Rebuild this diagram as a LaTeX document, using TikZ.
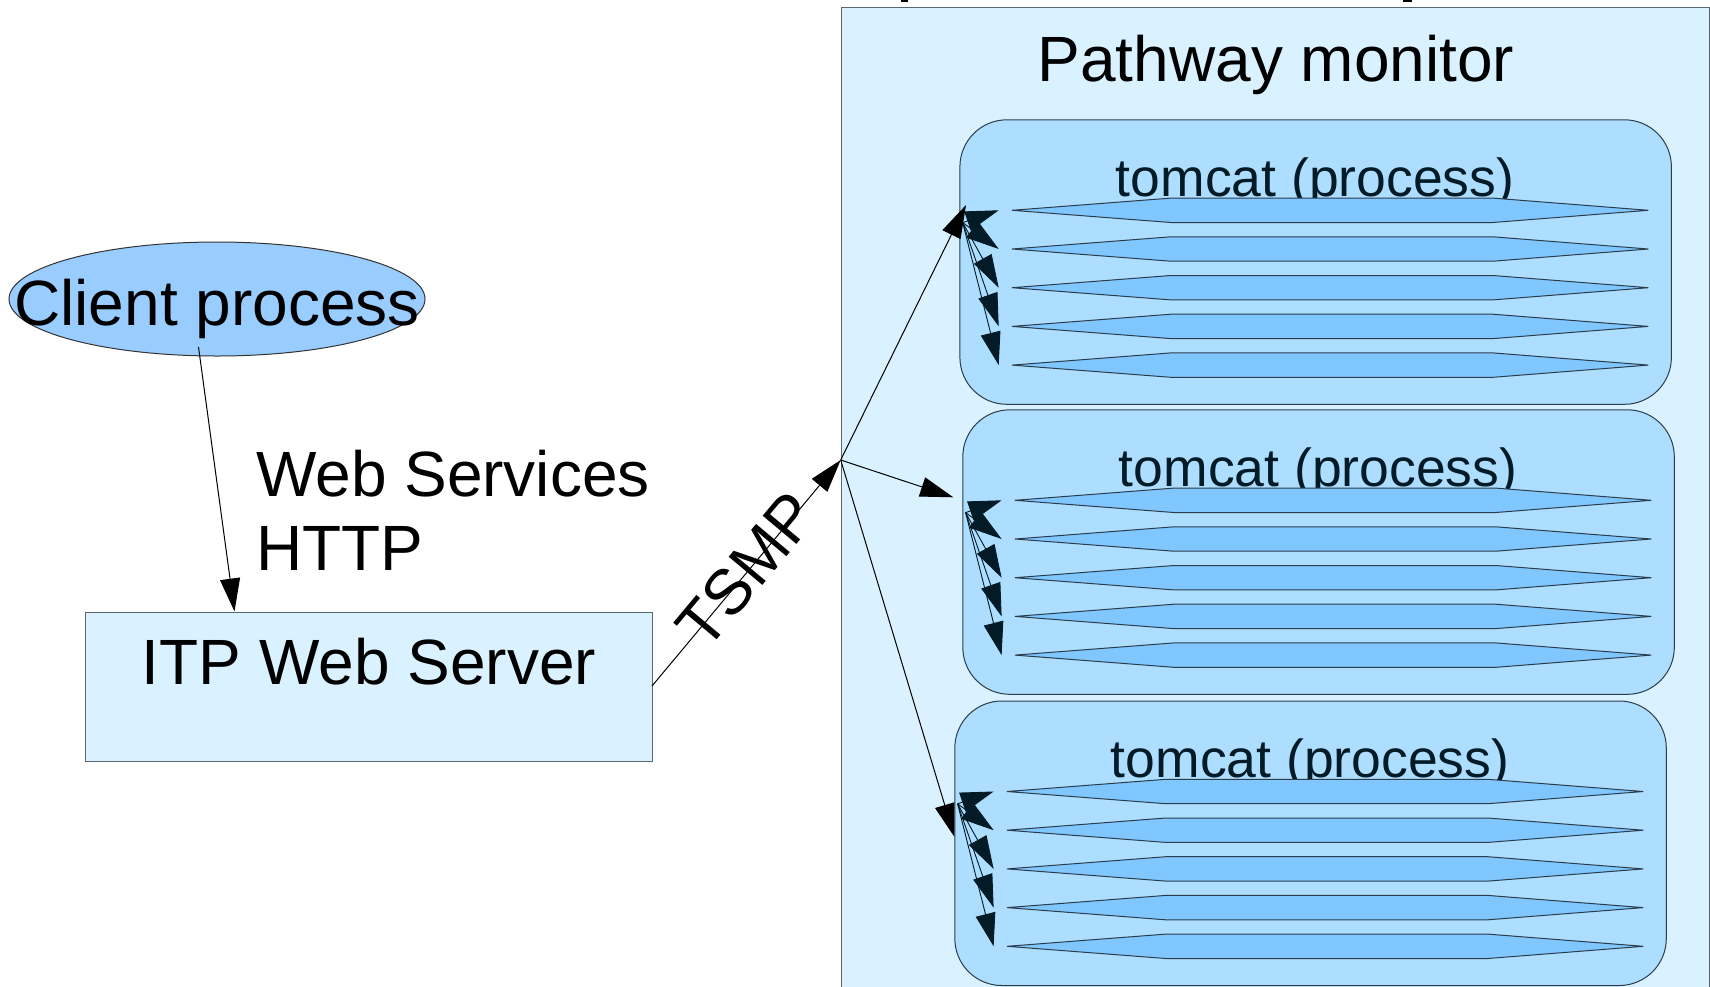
\documentclass[tikz,border=0pt]{standalone}
\usepackage{fontspec}
\setmainfont{Liberation Sans}
\usetikzlibrary{arrows.meta,shapes.geometric}
\definecolor{paleblue}{HTML}{DAF2FF}
\definecolor{tcfill}{HTML}{ADDDFF}
\definecolor{lensfill}{HTML}{80C6FF}
\definecolor{ellfill}{HTML}{99CCFF}
\definecolor{navy}{HTML}{021B26}
\definecolor{tcline}{HTML}{2B3D4A}
\definecolor{boxline}{HTML}{5A6670}
\begin{document}
\begin{tikzpicture}[x=1pt,y=-1pt,
  txt/.style={inner sep=0pt, font=\fontsize{64}{74}\selectfont, text=black},
  tctext/.style={inner sep=0pt, font=\fontsize{53.5}{60}\selectfont, text=navy},
  tcbox/.style={draw=tcline, fill=tcfill, line width=1pt, rounded corners=47pt,
    minimum width=711.5pt, minimum height=284.5pt, inner sep=0pt},
  lensshape/.style={draw=tcline, fill=lensfill, line width=1pt, line join=miter},
  extarrow/.style={draw=black, line width=1pt, -{Triangle[length=33pt,width=20pt]}},
  intarrow/.style={draw=navy, line width=0.9pt, -{Triangle[length=33pt,width=20pt]}},
]
\useasboundingbox (0,0) rectangle (1710,986);
\fill[white] (0,0) rectangle (1710,986);

% cut-off remnants at the top edge
\fill[black] (900.7,0) rectangle (908.3,2);
\fill[black] (1403.3,0) rectangle (1412.3,1.6);

% Pathway monitor container
\node[draw=boxline, fill=paleblue, line width=1.2pt, anchor=north west,
  minimum width=868pt, minimum height=995pt, inner sep=0pt] (pm) at (841,6.5) {};
\node[txt, anchor=base] (pmtext) at (1276,81) {Pathway monitor};

% tomcat boxes
\foreach \b/\bx/\by in {1/959.4/119.3, 2/962.3/409.3, 3/954.3/700.5} {
  \node[tcbox, anchor=north west] (tc\b) at (\bx,\by) {};
  \node[tctext, anchor=base] (tct\b) at (\bx+355.75,\by+77.4) {tomcat (process)};
  \foreach \k in {0,...,4} {
    \pgfmathsetmacro\ry{\by+91+38.7*\k}
    \draw[lensshape] (\bx+52.6,\ry) -- (\bx+211.5,\ry-12.2) -- (\bx+533.5,\ry-12.2)
      -- (\bx+689,\ry) -- (\bx+533.5,\ry+12.2) -- (\bx+211.5,\ry+12.2) -- cycle;
    \coordinate (t\b-\k) at (\bx+39.3,\ry);
  }
  \coordinate (s\b) at (\bx+3.3,\by+103.3);
  \foreach \k in {0,...,4} {
    \draw[intarrow] (s\b) -- (t\b-\k);
  }
}

% client process
\node[ellipse, draw=black!80, fill=ellfill, line width=1pt,
  minimum width=416pt, minimum height=114pt, inner sep=0pt] (client) at (217,299) {};
\node[txt, anchor=base] (clienttext) at (217,325) {Client process};

% ITP web server
\node[draw=boxline, fill=paleblue, line width=1pt, anchor=north west,
  minimum width=567pt, minimum height=149pt, inner sep=0pt] (itp) at (85,612) {};
\node[txt, anchor=base] (itptext) at (369,684) {ITP Web Server};

% labels
\node[txt, anchor=base west] (ws) at (256,496) {Web Services};
\node[txt, anchor=base west] (http) at (256,570) {HTTP};

% connectors
\coordinate (cA) at (198.5,347);
\coordinate (cB) at (234.5,611.5);
\draw[extarrow] (cA) -- (cB);

\coordinate (itpR) at (652,686);
\coordinate (J) at (840.7,460);
\draw[extarrow] (itpR) -- (J);
\node[txt, rotate=50.1] (tsmp) at (747,570) {TSMP};

\coordinate (e1) at (966,205);
\coordinate (e2) at (953.3,497.3);
\coordinate (e3) at (954.3,836.7);
\draw[extarrow] (J) -- (e1);
\draw[extarrow] (J) -- (e2);
\draw[extarrow] (J) -- (e3);
\end{tikzpicture}
\end{document}
